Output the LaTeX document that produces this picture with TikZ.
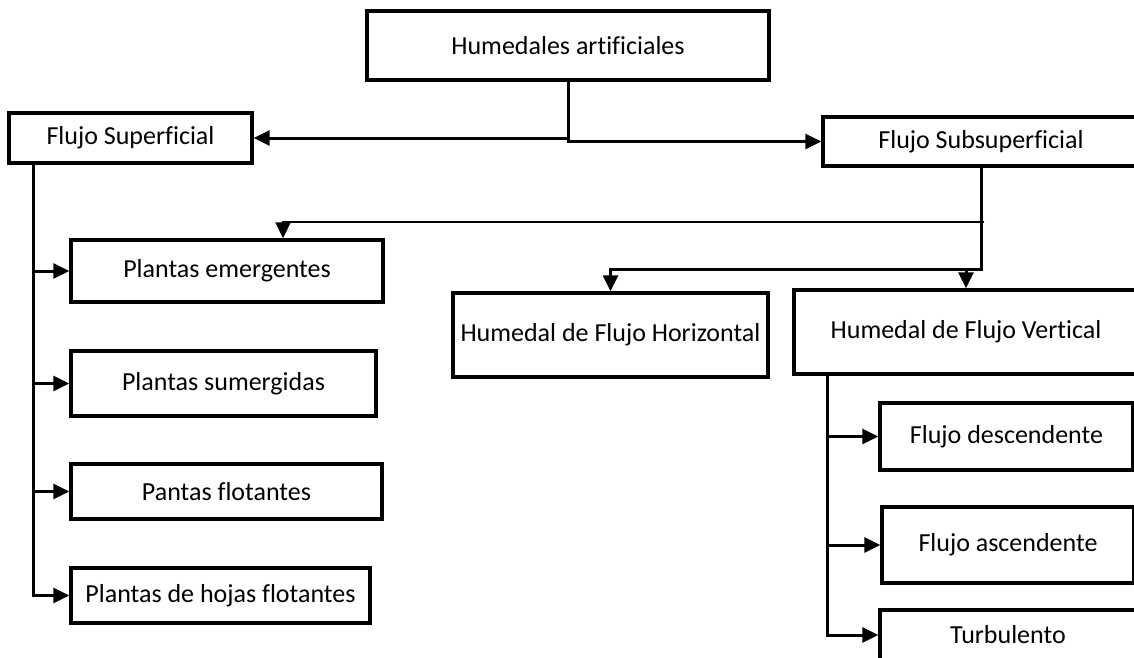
\documentclass[tikz,border=0pt]{standalone}
\usepackage{fontspec}
\setmainfont{Carlito}[Ligatures=NoCommon]
\usetikzlibrary{positioning,arrows.meta,calc}

\begin{document}
\begin{tikzpicture}[
  x=1pt,y=-1pt,
  font=\fontsize{26}{31}\selectfont,
  box/.style={rectangle,draw=black,line width=3.4pt,fill=white,inner sep=0pt,align=center},
  arr/.style={-{Triangle[length=16pt,width=15pt]},line width=3pt,black},
  thinarr/.style={arr,line width=2pt},
]
\useasboundingbox (0,0) rectangle (1134,657);

% ---- top level ----
\node[box,minimum width=402pt,minimum height=69pt] (hum) at (568,45.5) {Humedales artificiales};
\node[box,minimum width=243pt,minimum height=50pt] (sup) at (130.5,138) {Flujo Superficial};
\node[box,minimum width=316pt,minimum height=49pt] (sub) at (981,141.5) {Flujo Subsuperficial};

% ---- flujo superficial: plant types ----
\node[box,minimum width=312pt,minimum height=62pt] (emer) at (227,271) {Plantas emergentes};
\node[box,minimum width=305pt,minimum height=65pt] (sum) at (223.5,383.5) {Plantas sumergidas};
\node[box,minimum width=311pt,minimum height=55pt] (flo) at (226.5,491.5) {Pantas flotantes};
\node[box,minimum width=299pt,minimum height=55pt] (hoj) at (220.5,595.5) {Plantas de hojas flotantes};

% ---- flujo subsuperficial ----
\node[box,minimum width=315pt,minimum height=84pt] (hor) at (610.5,335) {Humedal de Flujo Horizontal};
\node[box,minimum width=344pt,minimum height=84pt] (vert) at (966,332) {Humedal de Flujo Vertical};
\node[box,minimum width=253pt,minimum height=67pt] (desc) at (1006.5,436.5) {Flujo descendente};
\node[box,minimum width=252pt,minimum height=76pt] (asc) at (1008,545) {Flujo ascendente};
\node[box,minimum width=256pt,minimum height=50pt] (turb) at (1008,635) {Turbulento};

\coordinate (sj) at ($(sub.south)+(0,102)$);
\coordinate (tj) at (984,222);
\coordinate (te) at (283,222);

\draw[arr] (hum.south) |- (sup.east);
\draw[arr] (hum.south) |- (sub.west);
\draw[arr] (sub.south) -- (sj) -| (vert.north);
\draw[arr] (sj) -| (hor.north);
\draw[thinarr] (tj) -- (te) -- (te |- emer.north);

\draw[arr] ([xshift=26pt]sup.south west) |- (emer.west);
\draw[arr] ([xshift=26pt]sup.south west) |- (sum.west);
\draw[arr] ([xshift=26pt]sup.south west) |- (flo.west);
\draw[arr] ([xshift=26pt]sup.south west) |- (hoj.west);

\draw[arr] ([xshift=35pt]vert.south west) |- (desc.west);
\draw[arr] ([xshift=35pt]vert.south west) |- (asc.west);
\draw[arr] ([xshift=35pt]vert.south west) |- (turb.west);
\end{tikzpicture}
\end{document}
